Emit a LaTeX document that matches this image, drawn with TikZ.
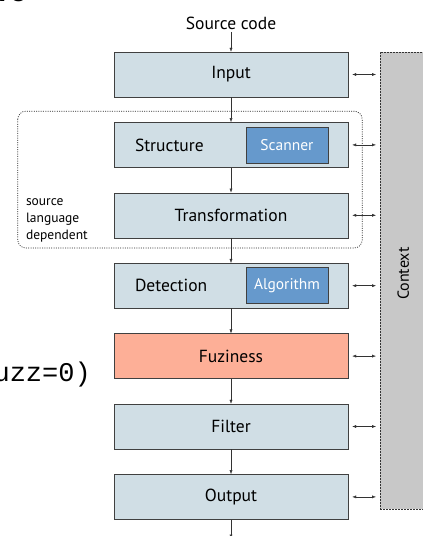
\documentclass[tikz,border=0pt]{standalone}
\usepackage{fontspec}
\setmainfont{PT Sans}
\setmonofont{Liberation Mono}
\setsansfont{Liberation Sans}
\usetikzlibrary{positioning,arrows.meta}
\definecolor{boxfill}{HTML}{D0DEE5}
\definecolor{inblue}{HTML}{6699CC}
\definecolor{fuzfill}{HTML}{FDAF97}
\definecolor{ctxfill}{HTML}{C8C8C8}

\begin{document}
\begin{tikzpicture}[font=\fontsize{17.5}{20}\selectfont,node distance=25pt,
  box/.style={draw=black!75,fill=boxfill,minimum width=234pt,minimum height=45pt,inner sep=0pt},
  lbox/.style={box,align=left,text width=192pt,inner xsep=21pt},
  inbox/.style={draw=black!75,fill=inblue,text=white,minimum width=82pt,minimum height=36pt,
    inner sep=0pt,font=\fontsize{15.5}{17}\selectfont},
  flow/.style={-{Latex[length=4pt,width=3pt]},black!80,thin},
  side/.style={{Latex[length=4pt,width=3pt]}-{Latex[length=4pt,width=3pt]},black!80,thin,
    shorten <=4pt,shorten >=4pt}]
\useasboundingbox (0,0) rectangle (423pt,536pt);
% cut-off bits of the slide
\node[anchor=base west,font=\sffamily\bfseries\fontsize{30}{30}\selectfont,inner sep=0pt] (title) at (-2pt,534pt) {re};
\node[anchor=base east,font=\ttfamily\fontsize{27}{28}\selectfont,inner sep=0pt] (fz) at (91pt,154pt) {uzz=0)};
% pipeline
\node[box] (input) at (231pt,461.5pt) {Input};
\node[above=20pt of input,inner sep=2pt] (src) {Source code};
\node[lbox,below=of input] (struct) {Structure};
\node[inbox,anchor=east] (scan) at ([xshift=-20pt]struct.east) {Scanner};
\node[box,below=of struct] (trans) {Transformation};
\node[lbox,below=of trans] (detect) {Detection};
\node[inbox,anchor=east] (algo) at ([xshift=-20pt]detect.east) {Algorithm};
\node[box,fill=fuzfill,below=of detect] (fuz) {Fuziness};
\node[box,below=of fuz] (filter) {Filter};
\node[box,below=of filter] (output) {Output};
\coordinate[below=19pt of output] (end);
\draw[flow] (src) -- (input);
\draw[flow] (input) -- (struct); \draw[flow] (struct) -- (trans); \draw[flow] (trans) -- (detect);
\draw[flow] (detect) -- (fuz); \draw[flow] (fuz) -- (filter); \draw[flow] (filter) -- (output);
\draw[flow] (output) -- (end);
% language dependent part
\draw[black!85,line width=0.7pt,dash pattern=on 1pt off 1.3pt,rounded corners=8pt]
  ([xshift=-96pt,yshift=11pt]struct.north west) rectangle ([xshift=14pt,yshift=-10pt]trans.south east);
\node[anchor=west,align=left,inner sep=0pt,font=\fontsize{13.5}{17}\selectfont] (dep)
  at ([xshift=-88pt,yshift=-5pt]trans.west) {source\\language\\dependent};
% context
\node[draw=black!80,dash pattern=on 2pt off 1pt,fill=ctxfill,minimum width=46pt,minimum height=457pt,
  anchor=north west] (context) at (380pt,484pt) {};
\node[rotate=90,font=\fontsize{16}{18}\selectfont] (ctxlbl) at ([yshift=7pt]context.center) {Context};
\foreach \n in {input,struct,trans,detect,fuz,filter,output}
  \draw[side] (\n.east) -- (\n.east -| context.west);
\end{tikzpicture}
\end{document}
